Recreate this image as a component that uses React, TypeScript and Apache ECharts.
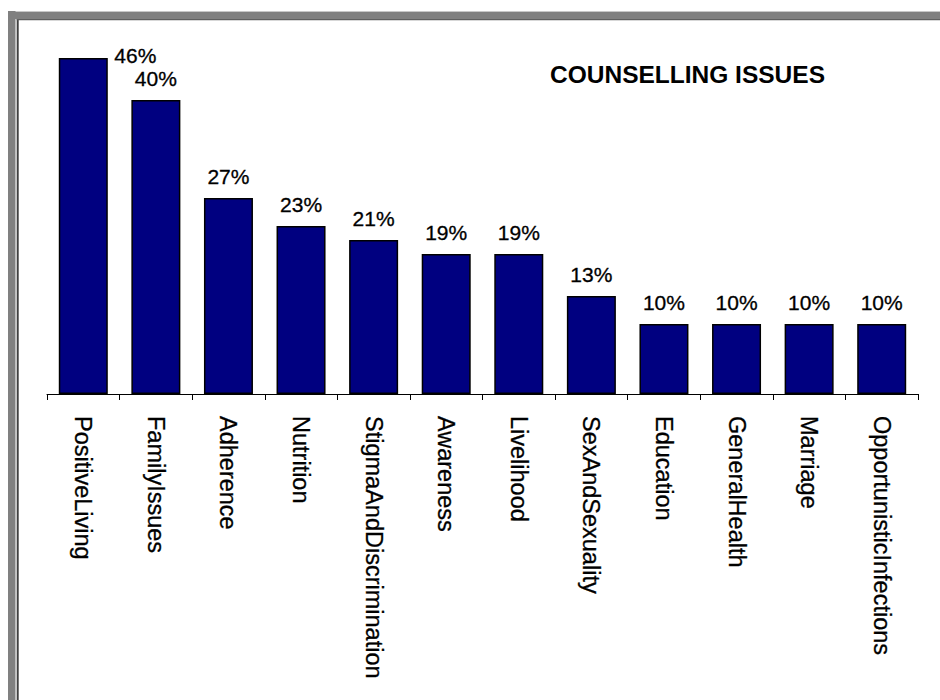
import React, { useEffect, useRef } from "react";
import * as echarts from "echarts";

const categories = [
  "PositiveLiving",
  "FamilyIssues",
  "Adherence",
  "Nutrition",
  "StigmaAndDiscrimination",
  "Awareness",
  "Livelihood",
  "SexAndSexuality",
  "Education",
  "GeneralHealth",
  "Marriage",
  "OpportunisticInfections",
];
const counts = [24, 21, 14, 12, 11, 10, 10, 7, 5, 5, 5, 5];
const percentLabels = ["46%", "40%", "27%", "23%", "21%", "19%", "19%", "13%", "10%", "10%", "10%", "10%"];
const chartTitle = "COUNSELLING ISSUES";

const FONT = "'Liberation Sans', Arial, sans-serif";

export default function App() {
  const ref = useRef<HTMLDivElement>(null);
  useEffect(() => {
    if (!ref.current) return;
    const chart = echarts.init(ref.current, null, { renderer: "svg" });
    chart.setOption({
      animation: false,
      backgroundColor: "#ffffff",
      grid: { left: 47, right: 22, top: 58, bottom: 306, containLabel: false },
      xAxis: {
        type: "category",
        data: categories,
        axisLine: { show: true, lineStyle: { color: "#000", width: 1 } },
        axisTick: { show: true, length: 6, lineStyle: { color: "#000", width: 1 } },
        axisLabel: {
          rotate: -90,
          margin: 22,
          interval: 0,
          fontSize: 23.5,
          fontFamily: FONT,
          color: "#000",
          textBorderColor: "#000",
          textBorderWidth: 0.3,
        },
      },
      yAxis: { type: "value", min: 0, max: 24, show: false },
      graphic: [
        { type: "rect", z: 100, shape: { x: 8, y: 11, width: 932, height: 1 }, style: { fill: "#c8c8c8" } },
        { type: "rect", z: 100, shape: { x: 8, y: 12, width: 932, height: 7 }, style: { fill: "#808080" } },
        { type: "rect", z: 100, shape: { x: 8, y: 11, width: 7.5, height: 689 }, style: { fill: "#808080" } },
        { type: "rect", z: 100, shape: { x: 16.7, y: 19, width: 2, height: 681 }, style: { fill: "#404040" } },
        { type: "rect", z: 100, shape: { x: 16.7, y: 19, width: 923.3, height: 1.2 }, style: { fill: "#606060" } },
        {
          type: "text",
          left: 550,
          top: 62,
          style: {
            text: chartTitle,
            fontSize: 24.5,
            fontWeight: "bold",
            fontFamily: FONT,
            fill: "#000",
          },
        },
      ],
      series: [
        {
          type: "bar",
          data: counts.map((v, i) =>
            i === 0 ? { value: v, label: { offset: [52, 19] } } : v
          ),
          barWidth: 49,
          itemStyle: { color: "#000080", borderColor: "#000", borderWidth: 1.5 },
          label: {
            show: true,
            position: "top",
            distance: 11,
            fontSize: 21,
            fontFamily: FONT,
            color: "#000",
            textBorderColor: "#000",
            textBorderWidth: 0.3,
            formatter: (p: any) => percentLabels[p.dataIndex],
          },
        },
      ],
    });
    return () => chart.dispose();
  }, []);
  return (
    <div
      ref={ref}
      style={{ position: "fixed", left: 0, top: 0, width: 940, height: 700, background: "#fff" }}
    />
  );
}
